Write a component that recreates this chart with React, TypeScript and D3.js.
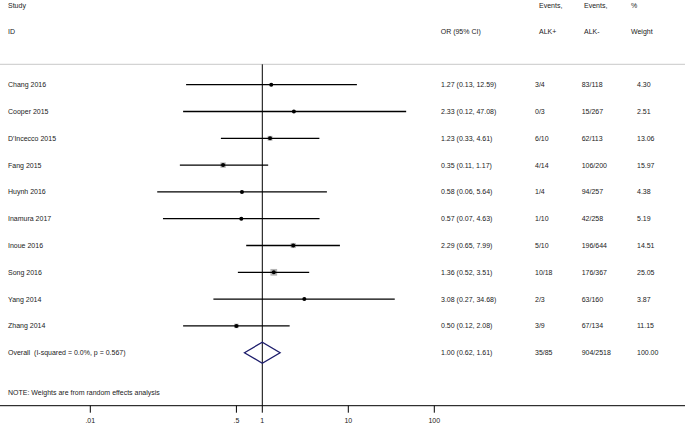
import React from 'react';
import * as d3 from 'd3';

// Study-level values
const studies = ['Chang 2016', 'Cooper 2015', "D'Incecco 2015", 'Fang 2015', 'Huynh 2016', 'Inamura 2017', 'Inoue 2016', 'Song 2016', 'Yang 2014', 'Zhang 2014'];
const oddsRatio = [1.27, 2.33, 1.23, 0.35, 0.58, 0.57, 2.29, 1.36, 3.08, 0.50];
const ciLow = [0.13, 0.12, 0.33, 0.11, 0.06, 0.07, 0.65, 0.52, 0.27, 0.12];
const ciHigh = [12.59, 47.08, 4.61, 1.17, 5.64, 4.63, 7.99, 3.51, 34.68, 2.08];
const eventsPos = ['3/4', '0/3', '6/10', '4/14', '1/4', '1/10', '5/10', '10/18', '2/3', '3/9'];
const eventsNeg = ['83/118', '15/267', '62/113', '106/200', '94/257', '42/258', '196/644', '176/367', '63/160', '67/134'];
const weights = [4.30, 2.51, 13.06, 15.97, 4.38, 5.19, 14.51, 25.05, 3.87, 11.15];

const overall = { or: 1.0, lo: 0.62, hi: 1.61, pos: '35/85', neg: '904/2518', weight: 100.0 };
const overallLabel = 'Overall  (I-squared = 0.0%, p = 0.567)';
const noteLabel = 'NOTE: Weights are from random effects analysis';

const tickValues = [0.01, 0.5, 1, 10, 100];
const tickLabels = ['.01', '.5', '1', '10', '100'];

const W = 688;
const H = 424;
const FONT = '"Liberation Sans", Arial, sans-serif';
const TEXT = '#222';

const fmt = (v: number) => v.toFixed(2);

export default function App() {
  const x = d3.scaleLog().domain([0.01, 100]).range([90.3, 434.3]);
  const y = d3.scaleLinear().domain([0, studies.length]).range([84.7, 352.7]);
  const side = d3.scaleSqrt().domain([0, 25.05]).range([0, 6.7]);

  const axisY = 405.7;
  const cols = { study: 8, or: 441, pos: 535, neg: 581.7, wt: 637 };
  const heads = { or: 440.7, pos: 539, neg: 584, wt: 631 };

  const txt = (xx: number, yy: number, s: string, key?: string) => (
    <text key={key} x={xx} y={yy} dy="0.35em" style={{ whiteSpace: 'pre' }}>{s}</text>
  );

  const oy = y(studies.length);
  const dh = 10.5;
  const diamond = [
    [x(overall.lo), oy],
    [x(overall.or), oy - dh],
    [x(overall.hi), oy],
    [x(overall.or), oy + dh],
  ];

  return (
    <svg width={W} height={H} style={{ position: 'absolute', left: 0, top: 0, background: '#fff' }}
      fontFamily={FONT} fontSize={7} fill={TEXT}>
      {/* header */}
      {txt(cols.study, 5.7, 'Study')}
      {txt(cols.study, 31.7, 'ID')}
      {txt(heads.or, 31.7, 'OR (95% CI)')}
      {txt(heads.pos, 5.7, 'Events,')}
      {txt(heads.pos, 31.7, 'ALK+')}
      {txt(heads.neg, 5.7, 'Events,')}
      {txt(heads.neg, 31.7, 'ALK-')}
      {txt(heads.wt, 5.7, '%')}
      {txt(heads.wt, 31.7, 'Weight')}
      <line x1={0} x2={685} y1={64.3} y2={64.3} stroke="#c8c8c8" strokeWidth={1} />

      {/* null line */}
      <line x1={x(1)} x2={x(1)} y1={64.3} y2={axisY} stroke="#000" strokeWidth={1} />

      {/* studies */}
      {studies.map((s, i) => {
        const yy = y(i);
        const sz = side(weights[i]);
        return (
          <g key={s}>
            {txt(cols.study, yy, s)}
            <rect x={x(oddsRatio[i]) - sz / 2} y={yy - sz / 2} width={sz} height={sz} fill="#b4b4b4" />
            <line x1={x(ciLow[i])} x2={x(ciHigh[i])} y1={yy} y2={yy} stroke="#000" strokeWidth={1.3} />
            <circle cx={x(oddsRatio[i])} cy={yy} r={2} fill="#000" />
            {txt(cols.or, yy, `${fmt(oddsRatio[i])} (${fmt(ciLow[i])}, ${fmt(ciHigh[i])})`)}
            {txt(cols.pos, yy, eventsPos[i])}
            {txt(cols.neg, yy, eventsNeg[i])}
            {txt(cols.wt, yy, fmt(weights[i]))}
          </g>
        );
      })}

      {/* overall */}
      {txt(cols.study, oy, overallLabel)}
      <path d={d3.line()(diamond as [number, number][]) + 'Z'} fill="none" stroke="#1c1c6b" strokeWidth={1.3} />
      {txt(cols.or, oy, `${fmt(overall.or)} (${fmt(overall.lo)}, ${fmt(overall.hi)})`)}
      {txt(cols.pos, oy, overall.pos)}
      {txt(cols.neg, oy, overall.neg)}
      {txt(cols.wt, oy, fmt(overall.weight))}

      {txt(cols.study, 393, noteLabel)}

      {/* axis */}
      <line x1={0} x2={685} y1={axisY} y2={axisY} stroke="#000" strokeWidth={1} />
      {tickValues.map((t, i) => (
        <g key={t}>
          <line x1={x(t)} x2={x(t)} y1={axisY} y2={axisY + 7} stroke="#000" strokeWidth={1} />
          <text x={x(t)} y={421} dy="0.35em" textAnchor="middle">{tickLabels[i]}</text>
        </g>
      ))}
    </svg>
  );
}
